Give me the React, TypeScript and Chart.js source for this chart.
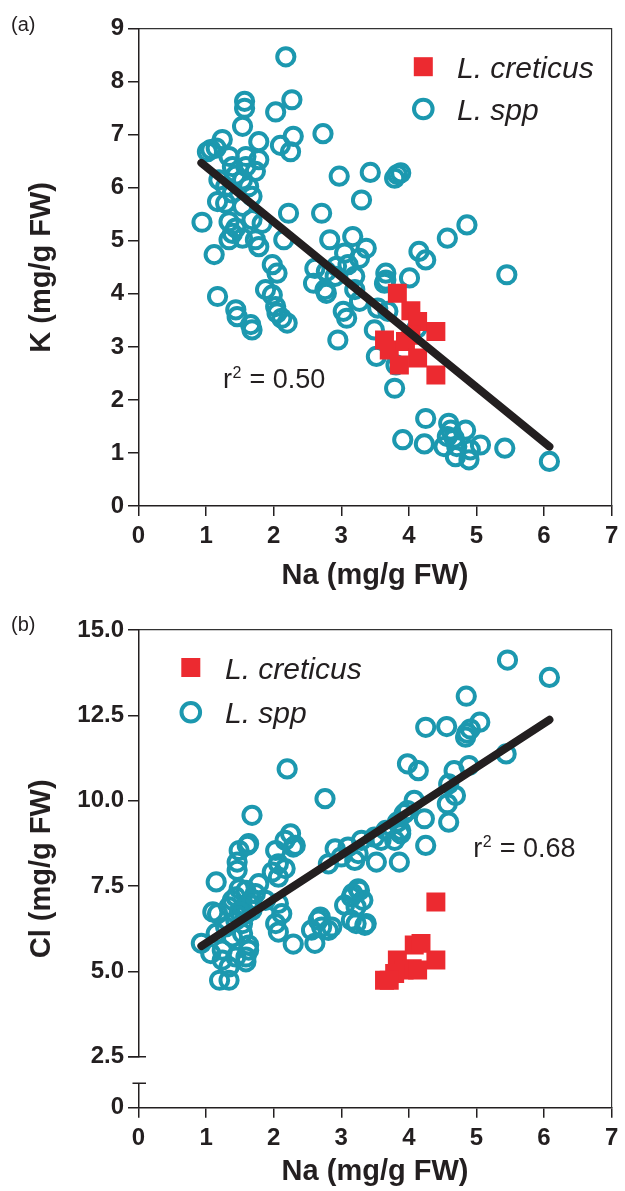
import React, { useEffect, useRef } from 'react';
import { Chart, registerables } from 'chart.js';

Chart.register(...registerables);

const FAM = '"Liberation Sans", Arial, Helvetica, sans-serif';
const DARK = '#231f20';
const RED = '#ec2a30';
const TEAL = '#1c98af';

// ---- tick values / labels ----
const naTicks = [0, 1, 2, 3, 4, 5, 6, 7];
const kTicks = [0, 1, 2, 3, 4, 5, 6, 7, 8, 9];
const clTicks = [2.5, 5, 7.5, 10, 12.5, 15];
const clTickLabels = ['2.5', '5.0', '7.5', '10.0', '12.5', '15.0'];
const clLowTicks = [0];
const seriesNames = ['L. creticus', 'L. spp'];

// ---- regression lines ----
const fitNa = [0.93, 6.08];
const fitK = [6.47, 1.12];
const fitCl = [5.74, 12.37];
const r2K = '0.50';
const r2Cl = '0.68';

// ---- panel (a): Na vs K ----
const creticusNaK: [number, number][] = [
  [3.83, 4.01], [4.03, 3.68], [4.13, 3.48], [4.40, 3.29], [3.64, 3.13], [3.71, 2.94],
  [4.03, 3.22], [3.95, 3.10], [3.86, 2.66], [4.13, 2.79], [4.40, 2.47],
];
const sppNaK: [number, number][] = [
  [2.18, 8.47], [2.27, 7.66], [1.57, 7.63], [1.57, 7.50], [1.54, 7.16], [2.03, 7.43], [2.29, 6.97],
  [2.10, 6.80], [2.25, 6.68], [1.78, 6.87], [1.24, 6.91], [1.02, 6.68], [1.15, 6.75], [1.07, 6.72],
  [1.34, 6.59], [1.59, 6.59], [1.78, 6.53], [1.39, 6.40], [1.59, 6.40], [1.73, 6.31], [1.44, 6.24],
  [1.54, 6.15], [1.19, 6.15], [1.29, 6.02], [1.63, 6.02], [1.68, 5.84], [1.39, 5.90], [1.17, 5.74],
  [1.29, 5.71], [1.54, 5.65], [2.22, 5.52], [0.94, 5.35], [1.34, 5.36], [1.68, 5.40], [1.83, 5.33],
  [1.44, 5.24], [1.39, 5.14], [1.54, 5.05], [1.34, 5.02], [1.73, 5.02], [1.78, 4.89], [2.15, 5.02],
  [1.12, 4.74], [1.98, 4.55], [2.05, 4.39], [1.17, 3.95], [1.44, 3.70], [1.46, 3.57], [1.66, 3.42],
  [1.68, 3.32], [1.88, 4.08], [1.98, 3.98], [2.03, 3.76], [2.05, 3.64], [2.12, 3.54], [2.20, 3.45],
  [2.73, 7.02], [2.97, 6.22], [3.43, 6.29], [3.83, 6.25], [3.88, 6.28], [3.79, 6.18], [3.30, 5.77],
  [2.71, 5.52], [4.86, 5.30], [4.57, 5.05], [2.83, 5.02], [3.17, 5.08], [3.37, 4.86], [3.05, 4.77],
  [3.27, 4.67], [4.15, 4.80], [4.25, 4.64], [2.61, 4.48], [2.78, 4.42], [2.93, 4.52], [3.10, 4.55],
  [2.59, 4.20], [2.78, 4.01], [3.20, 4.33], [3.20, 4.08], [3.66, 4.39], [3.66, 4.26], [3.64, 4.20],
  [4.01, 4.30], [3.03, 3.67], [3.08, 3.54], [3.27, 3.86], [3.54, 3.73], [3.49, 3.32], [2.95, 3.13],
  [3.52, 2.82], [3.81, 2.66], [3.79, 2.22], [4.25, 1.65], [3.91, 1.25], [4.23, 1.17], [4.59, 1.56],
  [4.62, 1.43], [4.84, 1.43], [4.57, 1.31], [4.67, 1.28], [4.52, 1.12], [4.71, 1.12], [4.69, 0.93],
  [4.89, 0.87], [4.91, 1.06], [5.06, 1.15], [5.42, 1.09], [6.08, 0.84], [5.45, 4.36], [2.91, 4.33],
  [2.76, 4.08], [4.12, 3.35], [3.69, 3.67],
];

// ---- panel (b): Na vs Cl ----
const creticusNaCl: [number, number][] = [
  [4.40, 7.03], [4.08, 5.77], [4.18, 5.82], [3.83, 5.33], [4.40, 5.33], [4.05, 5.08],
  [3.93, 5.04], [3.79, 4.94], [3.64, 4.74], [3.71, 4.74], [4.13, 5.04],
];
const sppNaCl: [number, number][] = [
  [5.46, 14.12], [6.08, 13.61], [4.85, 13.06], [4.25, 12.15], [4.56, 12.17], [5.05, 12.30], [4.91, 12.10],
  [4.84, 11.86], [4.86, 11.98], [5.44, 11.37], [3.98, 11.08], [4.14, 10.88], [4.67, 10.88], [4.89, 11.03],
  [2.76, 10.06], [4.59, 10.49], [4.69, 10.15], [4.57, 9.91], [4.08, 10.01], [4.23, 9.47], [4.59, 9.37],
  [4.25, 8.69], [3.93, 9.62], [3.88, 9.13], [3.66, 9.13], [3.49, 8.93], [3.30, 8.84], [3.10, 8.64],
  [2.91, 8.59], [3.52, 8.20], [3.86, 8.20], [2.81, 8.15], [3.25, 8.45], [3.20, 8.25], [3.83, 9.37],
  [3.98, 9.71], [3.00, 8.35], [3.79, 8.84], [3.88, 9.03], [3.59, 8.84], [3.25, 7.42], [3.15, 7.18],
  [3.05, 6.94], [3.32, 7.08], [3.22, 6.89], [3.15, 6.50], [3.37, 6.40], [2.69, 6.59], [2.71, 6.30],
  [2.56, 6.21], [2.86, 6.30], [3.27, 7.37], [3.22, 6.40], [2.61, 5.82], [2.29, 5.80], [2.20, 10.93],
  [1.68, 9.57], [2.25, 9.03], [2.32, 8.69], [2.17, 8.84], [2.03, 8.54], [1.63, 8.74], [1.49, 8.54],
  [1.46, 8.20], [1.46, 7.96], [1.15, 7.62], [2.07, 8.15], [2.17, 8.01], [1.98, 7.91], [2.07, 7.76],
  [1.78, 7.57], [1.59, 7.37], [1.44, 7.18], [1.34, 6.89], [1.10, 6.74], [1.68, 6.79], [2.07, 6.99],
  [2.12, 6.69], [2.03, 6.40], [2.07, 6.15], [2.66, 6.50], [0.93, 5.82], [1.07, 5.52], [1.24, 5.62],
  [1.24, 5.33], [1.34, 5.13], [1.44, 5.42], [1.59, 5.42], [1.63, 5.77], [1.20, 4.74], [1.34, 4.74],
  [1.54, 6.11], [1.39, 6.01], [1.29, 6.30], [1.88, 7.08], [1.73, 7.28], [1.44, 6.50], [1.59, 6.69],
  [1.54, 6.40], [1.63, 5.62], [1.15, 6.11], [1.17, 6.69], [1.59, 5.28], [1.39, 7.08], [1.49, 7.42],
  [1.61, 8.69], [2.29, 8.64], [2.81, 6.20], [3.35, 6.35], [3.17, 7.28], [1.63, 7.00], [1.54, 6.85],
  [1.68, 7.10], [1.49, 6.75],
];

const toPts = (pairs: [number, number][]) => pairs.map(([x, y]) => ({ x, y }));

const tickFont = { family: FAM, size: 24, weight: 'bold' as const };
const titleFont = { family: FAM, size: 29, weight: 'bold' as const, lineHeight: 1 };
const tickGrid = {
  display: true, drawOnChartArea: false, drawTicks: true, tickLength: 10.5, color: DARK, lineWidth: 1.5,
};
const axisBorder = { display: true, color: DARK, width: 1.5 };

const frameAxis = (pos: string, min: number, max: number, size: number) => ({
  type: 'linear', position: pos, min, max, display: true,
  ticks: { display: false },
  grid: { display: false, drawTicks: false },
  border: { display: true, color: '#333333', width: 1.2 },
  afterFit: (s: any) => { if (pos === 'top') s.height = size; else s.width = size; },
});

const xAxis = (height: number, titlePad: number) => ({
  type: 'linear', position: 'bottom', min: 0, max: 7,
  afterBuildTicks: (s: any) => { s.ticks = naTicks.map((v) => ({ value: v })); },
  ticks: { font: tickFont, color: DARK, padding: 6, maxRotation: 0, autoSkip: false },
  grid: { ...tickGrid, tickLength: 10 },
  border: axisBorder,
  title: { display: true, text: 'Na (mg/g FW)', font: titleFont, color: DARK, padding: { top: 0, bottom: titlePad } },
  afterFit: (s: any) => { s.height = height; },
});

const makeDatasets = (red: [number, number][], teal: [number, number][], fitY: number[]) => [
  {
    type: 'line', label: 'fit', data: fitNa.map((x, i) => ({ x, y: fitY[i] })),
    borderColor: DARK, borderWidth: 8, borderCapStyle: 'round', pointRadius: 0, fill: false,
    xAxisID: 'x', yAxisID: 'y',
  },
  {
    type: 'scatter', label: seriesNames[0], data: toPts(red), pointStyle: 'rect', pointRadius: 13.4,
    backgroundColor: RED, borderColor: RED, borderWidth: 0, xAxisID: 'x', yAxisID: 'y',
  },
  {
    type: 'scatter', label: seriesNames[1], data: toPts(teal), pointStyle: 'circle', pointRadius: 8.6,
    backgroundColor: 'rgba(0,0,0,0)', borderColor: TEAL, borderWidth: 4, xAxisID: 'x', yAxisID: 'y',
  },
];

interface DecoOpts {
  panel: string; lx: number; ly1: number; ly2: number; tx: number;
  rx: number; ry: number; r2: string; breaks?: boolean;
}

const decoPlugin = (o: DecoOpts) => ({
  id: 'deco',
  afterDraw(chart: any) {
    const ctx = chart.ctx as CanvasRenderingContext2D;
    const ds = chart.data.datasets;
    ctx.save();
    ctx.textAlign = 'left';
    ctx.textBaseline = 'alphabetic';
    ctx.fillStyle = DARK;
    ctx.font = `20px ${FAM}`;
    ctx.fillText(o.panel, 11, 31);

    // legend
    const s = 19;
    ctx.fillStyle = ds[1].backgroundColor;
    ctx.fillRect(o.lx - s / 2, o.ly1 - s / 2, s, s);
    ctx.beginPath();
    ctx.arc(o.lx, o.ly2, 9.3, 0, Math.PI * 2);
    ctx.strokeStyle = ds[2].borderColor;
    ctx.lineWidth = 4;
    ctx.stroke();
    ctx.fillStyle = DARK;
    ctx.font = `italic 30px ${FAM}`;
    ctx.fillText(ds[1].label, o.tx, o.ly1 + 11);
    ctx.fillText(ds[2].label, o.tx, o.ly2 + 10.5);

    // r^2
    ctx.font = `27px ${FAM}`;
    ctx.fillText('r', o.rx, o.ry);
    const w = ctx.measureText('r').width;
    ctx.font = `16px ${FAM}`;
    ctx.fillText('2', o.rx + w + 0.5, o.ry - 10);
    const w2 = ctx.measureText('2').width;
    ctx.font = `27px ${FAM}`;
    ctx.fillText(' = ' + o.r2, o.rx + w + w2 + 1, o.ry);

    // axis break marks
    if (o.breaks) {
      const up = chart.scales.y;
      const lo = chart.scales.yLow;
      const x0 = chart.chartArea.left;
      ctx.strokeStyle = DARK;
      ctx.lineWidth = 1.5;
      ctx.beginPath();
      ctx.moveTo(x0 - 10.5, up.bottom);
      ctx.lineTo(x0 + 7.5, up.bottom);
      ctx.moveTo(x0 - 6, lo.top);
      ctx.lineTo(x0 + 7.5, lo.top);
      ctx.stroke();
    }
    ctx.restore();
  },
});

const baseOptions = {
  responsive: false,
  animation: false,
  devicePixelRatio: 1,
  events: [],
  layout: { padding: 0 },
  plugins: { legend: { display: false }, tooltip: { enabled: false } },
};

export default function App() {
  const refA = useRef<HTMLCanvasElement>(null);
  const refB = useRef<HTMLCanvasElement>(null);

  useEffect(() => {
    document.body.style.margin = '0';
    const chartA = new Chart(refA.current as HTMLCanvasElement, {
      type: 'scatter',
      data: { datasets: makeDatasets(creticusNaK, sppNaK, fitK) as any },
      options: {
        ...baseOptions,
        scales: {
          x: xAxis(94, 10),
          xTop: frameAxis('top', 0, 7, 28.7),
          y: {
            type: 'linear', position: 'left', min: 0, max: 9,
            afterBuildTicks: (s: any) => { s.ticks = kTicks.map((v) => ({ value: v })); },
            ticks: { font: tickFont, color: DARK, padding: 4, autoSkip: false },
            grid: tickGrid, border: axisBorder,
            title: { display: true, text: 'K (mg/g FW)', font: titleFont, color: DARK, padding: { top: 27.7, bottom: 0 } },
            afterFit: (s: any) => { s.width = 138.5; },
          },
          yRight: frameAxis('right', 0, 9, 9.3),
        },
      } as any,
      plugins: [decoPlugin({ panel: '(a)', lx: 423.3, ly1: 66.7, ly2: 109, tx: 457, rx: 223, ry: 388, r2: r2K })],
    });

    const chartB = new Chart(refB.current as HTMLCanvasElement, {
      type: 'scatter',
      data: { datasets: makeDatasets(creticusNaCl, sppNaCl, fitCl) as any },
      options: {
        ...baseOptions,
        scales: {
          x: xAxis(83.3, 5),
          xTop: frameAxis('top', 0, 7, 30),
          yTitle: {
            type: 'linear', position: 'left', weight: 10, min: 0, max: 1,
            ticks: { display: false }, grid: { display: false, drawTicks: false }, border: { display: false },
            title: { display: true, text: 'Cl (mg/g FW)', font: titleFont, color: DARK, padding: { top: 27.7, bottom: 0 } },
            afterFit: (s: any) => { s.width = 70; },
          },
          y: {
            type: 'linear', position: 'left', stack: 'cl', stackWeight: 426.7, weight: 3, min: 2.5, max: 15,
            afterBuildTicks: (s: any) => { s.ticks = clTicks.map((v) => ({ value: v })); },
            ticks: {
              font: tickFont, color: DARK, padding: 4, autoSkip: false,
              callback: (v: any) => clTickLabels[clTicks.indexOf(Number(v))],
            },
            grid: tickGrid, border: axisBorder,
            afterFit: (s: any) => { s.width = 68.5; },
          },
          yGap: {
            type: 'linear', position: 'left', stack: 'cl', stackWeight: 26.6, weight: 2, min: 0, max: 1,
            display: false,
            afterFit: (s: any) => { s.width = 68.5; },
          },
          yLow: {
            type: 'linear', position: 'left', stack: 'cl', stackWeight: 24.4, weight: 1, min: 0, max: 0.7,
            afterBuildTicks: (s: any) => { s.ticks = clLowTicks.map((v) => ({ value: v })); },
            ticks: { font: tickFont, color: DARK, padding: 4, autoSkip: false, callback: (v: any) => String(v) },
            grid: tickGrid, border: axisBorder,
            afterFit: (s: any) => { s.width = 68.5; },
          },
          yRight: frameAxis('right', 2.5, 15, 9.3),
        },
      } as any,
      plugins: [decoPlugin({ panel: '(b)', lx: 190.8, ly1: 67.5, ly2: 112.3, tx: 225, rx: 473.3, ry: 256.7, r2: r2Cl, breaks: true })],
    });

    return () => {
      chartA.destroy();
      chartB.destroy();
    };
  }, []);

  return (
    <div style={{ width: 625, height: 1191, position: 'relative' }}>
      <canvas ref={refA} width={625} height={600} style={{ display: 'block' }} />
      <canvas ref={refB} width={625} height={591} style={{ display: 'block' }} />
    </div>
  );
}
